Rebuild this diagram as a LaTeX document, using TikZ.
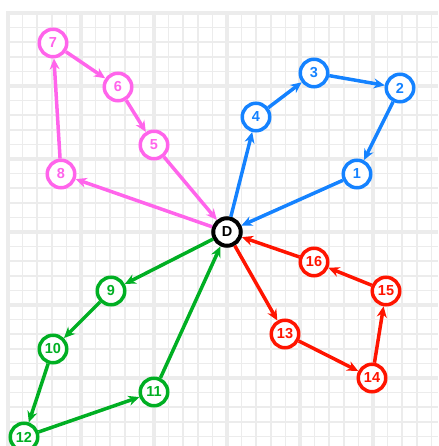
\documentclass[tikz,border=0pt]{standalone}
\usepackage{fontspec}
\setsansfont{Liberation Sans}
\usepackage{tikz}
\usetikzlibrary{arrows.meta}
\definecolor{gridgray}{RGB}{236,236,236}
\definecolor{pinkc}{RGB}{255,100,235}
\definecolor{bluec}{RGB}{20,130,255}
\definecolor{greenc}{RGB}{0,175,35}
\definecolor{redc}{RGB}{255,20,0}
\begin{document}
\begin{tikzpicture}[x=1pt, y=-1pt,
		vertex/.style={circle, draw=#1, text=#1, fill=white, line width=3.5pt, minimum size=27.5pt, inner sep=0pt, font=\sffamily\bfseries\fontsize{14.5}{14.5}\selectfont},
		link/.style={#1, line width=3.5pt, -{Stealth[length=11pt, width=10pt]}}]
		\useasboundingbox (0,0) rectangle (438,446);
		% grid
		\foreach \i in {0,...,29} {
			\draw[gridgray, line width=1.5pt] (8+\i*14.6,13) -- (8+\i*14.6,446);
			\draw[gridgray, line width=1.5pt] (8,13+\i*14.6) -- (438,13+\i*14.6);
		}
		\foreach \i in {0,...,5} {
			\draw[gridgray, line width=4pt] (8+\i*73,11) -- (8+\i*73,446);
			\draw[gridgray, line width=4pt] (6,13+\i*73) -- (438,13+\i*73);
		}
		% nodes
		\node[vertex=black, line width=4pt] (D) at (227,232) {D};
		\node[vertex=bluec] (n1) at (357,174) {1};
		\node[vertex=bluec] (n2) at (400,88) {2};
		\node[vertex=bluec] (n3) at (314,73) {3};
		\node[vertex=bluec] (n4) at (256,117) {4};
		\node[vertex=pinkc] (n5) at (154,145) {5};
		\node[vertex=pinkc] (n6) at (118,87) {6};
		\node[vertex=pinkc] (n7) at (53,43) {7};
		\node[vertex=pinkc] (n8) at (61,174) {8};
		\node[vertex=greenc] (n9) at (111,291) {9};
		\node[vertex=greenc] (n10) at (53,349) {10};
		\node[vertex=greenc] (n11) at (154,392) {11};
		\node[vertex=greenc] (n12) at (24,437) {12};
		\node[vertex=redc] (n13) at (285,334) {13};
		\node[vertex=redc] (n14) at (372,378) {14};
		\node[vertex=redc] (n15) at (386,291) {15};
		\node[vertex=redc] (n16) at (314,262) {16};
		% cycles
		\draw[link=bluec] (D) -- (n4);
		\draw[link=bluec] (n4) -- (n3);
		\draw[link=bluec] (n3) -- (n2);
		\draw[link=bluec] (n2) -- (n1);
		\draw[link=bluec] (n1) -- (D);
		\draw[link=pinkc] (D) -- (n8);
		\draw[link=pinkc] (n8) -- (n7);
		\draw[link=pinkc] (n7) -- (n6);
		\draw[link=pinkc] (n6) -- (n5);
		\draw[link=pinkc] (n5) -- (D);
		\draw[link=greenc] (D) -- (n9);
		\draw[link=greenc] (n9) -- (n10);
		\draw[link=greenc] (n10) -- (n12);
		\draw[link=greenc] (n12) -- (n11);
		\draw[link=greenc] (n11) -- (D);
		\draw[link=redc] (D) -- (n13);
		\draw[link=redc] (n13) -- (n14);
		\draw[link=redc] (n14) -- (n15);
		\draw[link=redc] (n15) -- (n16);
		\draw[link=redc] (n16) -- (D);
	\end{tikzpicture}
\end{document}
